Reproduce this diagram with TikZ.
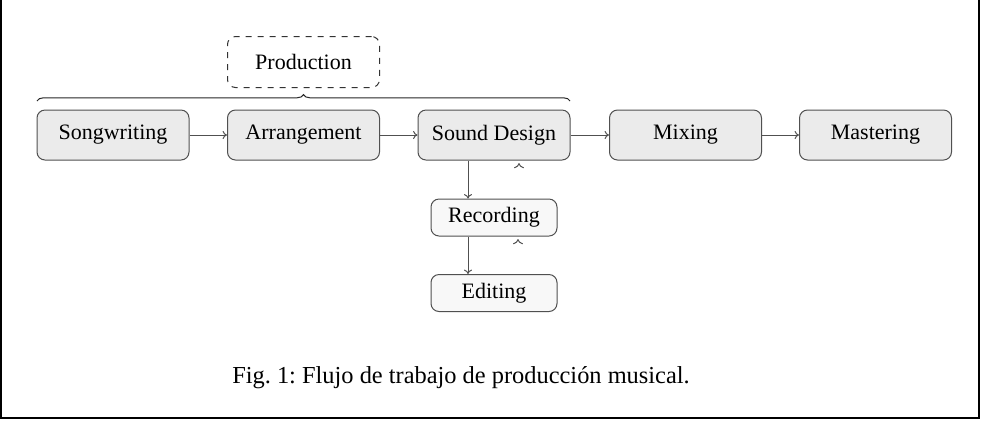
\documentclass[tikz,border=0pt]{standalone}
\usepackage{fontspec}
\setmainfont{Liberation Serif}
\usetikzlibrary{decorations.pathreplacing,arrows.meta}
\definecolor{boxfill}{HTML}{EBEBEB}
\definecolor{subfill}{HTML}{F8F8F8}
\definecolor{boxline}{HTML}{505050}
\begin{document}
\begin{tikzpicture}[x=0.5pt,y=-0.5pt,
  stagebox/.style={draw=boxline, fill=boxfill, rounded corners=4pt, line width=0.5pt,
    minimum width=76pt, minimum height=25pt, inner sep=0pt, font=\fontsize{11}{13}\selectfont},
  subbox/.style={draw=boxline, fill=subfill, rounded corners=4pt, line width=0.5pt,
    minimum width=63pt, minimum height=18.5pt, inner sep=0pt, font=\fontsize{11}{13}\selectfont},
  groupbox/.style={draw=black!80, dashed, rounded corners=4pt, line width=0.5pt,
    minimum width=76pt, minimum height=25.5pt, inner sep=0pt, font=\fontsize{11}{13}\selectfont},
  flow/.style={draw=boxline, line width=0.5pt, -{To[length=2.2pt,width=4pt]}},
  tinytip/.style={draw=boxline, line width=0.5pt, -{To[length=2.6pt,width=5pt]}},
  framelines/.style={draw=black, line width=1pt}]
\useasboundingbox (0,0) rectangle (981,420);
\coordinate (tl) at (1,0);
\coordinate (bl) at (1,417.5);
\coordinate (br) at (979,417.5);
\coordinate (tr) at (979,0);
\draw[framelines] (tl) -- (bl) -- (br) -- (tr);

\node[stagebox] (song) at (113,135) {Songwriting};
\node[stagebox] (arr) at (303.5,135) {Arrangement};
\node[stagebox] (sd) at (494,135) {Sound Design};
\node[stagebox] (mix) at (685.5,135) {Mixing};
\node[stagebox] (mast) at (875.5,135) {Mastering};
\node[subbox] (rec) at (494,217.5) {Recording};
\node[subbox] (edit) at (494,293) {Editing};
\node[groupbox] (prod) at (303.5,62) {Production};

\draw[flow] (song) -- (arr);
\draw[flow] (arr) -- (sd);
\draw[flow] (sd) -- (mix);
\draw[flow] (mix) -- (mast);
\draw[flow] ([xshift=-13pt]sd.south) -- ([xshift=-13pt]rec.north);
\draw[flow] ([xshift=-13pt]rec.south) -- ([xshift=-13pt]edit.north);
\draw[tinytip] ([xshift=12.5pt,yshift=-1.8pt]sd.south) -- ([xshift=12.5pt,yshift=-1.3pt]sd.south);
\draw[tinytip] ([xshift=12pt,yshift=-1.8pt]rec.south) -- ([xshift=12pt,yshift=-1.3pt]rec.south);

\coordinate (bstart) at (37,101);
\coordinate (bend) at (570,101);
\draw[draw=black!85, line width=0.5pt, decorate, decoration={brace, amplitude=3.2pt}] (bstart) -- (bend);

\node[font=\fontsize{12.2}{14}\selectfont] (cap) at (461,378) {\frenchspacing Fig. 1: Flujo de trabajo de producción musical.};
\end{tikzpicture}
\end{document}
